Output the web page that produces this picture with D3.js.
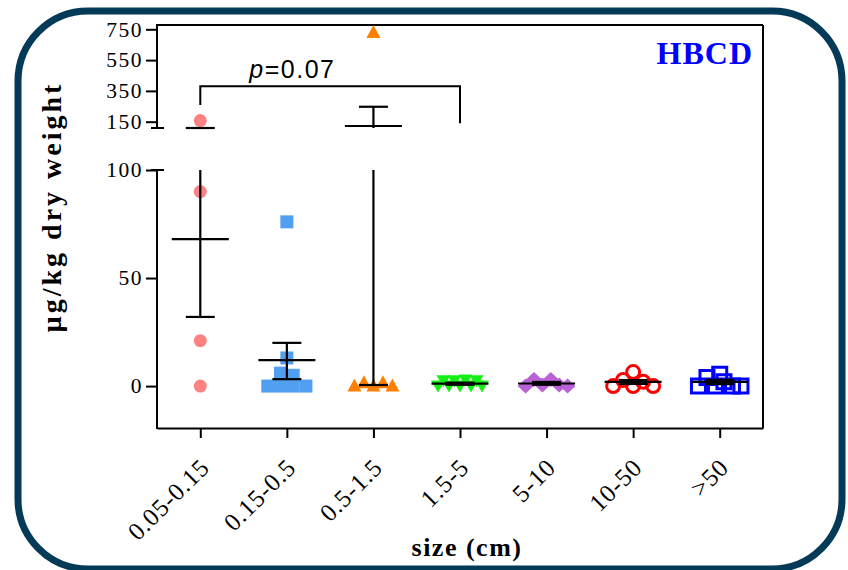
<!DOCTYPE html>
<html><head><meta charset="utf-8">
<script src="https://cdn.jsdelivr.net/npm/d3@7"></script>
<style>html,body{margin:0;padding:0;background:#fff}svg{display:block}</style>
</head><body>
<svg id="c" width="848" height="570"></svg>
<script>
// ---- data ----
const categories = ["0.05-0.15","0.15-0.5","0.5-1.5","1.5-5","5-10","10-50",">50"];
const values = [
  [157, 90, 21, 0],
  [76, 13, 6, 5, 0, 0, 0, 0],
  [730, 0, 1.5, 0, 1.5, 0],
  [0, 2.5, 0, 2.5, 0, 2.8, 0, 2.5, 0],
  [0, 3, 0.5, 3, 0.5, 0],
  [0, 2.8, 0, 2, 0, 6.5],
  [0, 4, 0, 2, 0, 0, 5.5]
];
const means   = [68, 12, 122, 1.1, 1.2, 1.9, 1.9];
const errLow  = [32, 3.2, 0.5, 0.6, 0.6, 1.0, 0.9];
const errHigh = [103, 20, 247, 1.6, 1.9, 2.8, 2.9];
const lowerTicks = [0, 50, 100];
const upperTicks = [150, 350, 550, 750];
const bracketGroups = ["0.05-0.15", "1.5-5"];
const bracketLevels = [380, 258, 140]; // top bar, left foot, right foot (upper segment units)
const pValue = "0.07";
const panelLabel = "HBCD";

// ---- styles ----
const colors  = ["#ff8282", "#519ff0", "#ff8000", "#14f014", "#b862d6", "#ff0000", "#0000ff"];
const shapes  = ["circle", "square", "triUp", "triDown", "diamond", "circleOpen", "squareOpen"];
const spacing = [12, 12.7, 9.5, 5.5, 8.4, 10, 8.5];

const svg = d3.select("#c");
const L = 157, R = 763, T = 25, B = 428;
const breakBottom = 128, breakTop = 170;

const x = d3.scalePoint().domain(categories).range([L, R]).padding(0.5);
const yLow = d3.scaleLinear().domain([-19.4, 100]).range([B, breakTop]).clamp(true);
const yUp  = d3.scaleLinear().domain([109, 778]).range([breakBottom, T]).clamp(true);
const y = v => v <= 100 ? yLow(v) : yUp(v);

// border
svg.append("rect").attr("x", 18).attr("y", 11).attr("width", 824).attr("height", 558)
  .attr("rx", 70).attr("fill", "none").attr("stroke", "#033a58").attr("stroke-width", 7);

const serif = "'Liberation Serif','Times New Roman',serif";

// frame
const frame = svg.append("g").attr("stroke", "#000").attr("stroke-width", 2).attr("fill", "none");
frame.append("line").attr("x1", L).attr("x2", R).attr("y1", T).attr("y2", T);
frame.append("line").attr("x1", R).attr("x2", R).attr("y1", T).attr("y2", B);
frame.append("line").attr("x1", L).attr("x2", L).attr("y1", T - 1).attr("y2", breakBottom);
frame.append("line").attr("x1", L).attr("x2", L).attr("y1", breakTop).attr("y2", B + 1);
frame.append("line").attr("x1", L - 6).attr("x2", L + 7).attr("y1", breakBottom).attr("y2", breakBottom);
frame.append("line").attr("x1", L - 6).attr("x2", L + 7).attr("y1", breakTop).attr("y2", breakTop);

// y axes
function styleAxis(g) {
  g.select(".domain").remove();
  g.selectAll(".tick line").attr("stroke", "#000").attr("stroke-width", 2);
  g.selectAll(".tick text").attr("font-family", serif).attr("font-size", 21.5)
    .attr("letter-spacing", 1.5).attr("fill", "#000");
}
svg.append("g").attr("transform", `translate(${L},0)`)
  .call(d3.axisLeft(yLow).tickValues(lowerTicks).tickSize(11).tickPadding(3))
  .call(styleAxis);
svg.append("g").attr("transform", `translate(${L},0)`)
  .call(d3.axisLeft(yUp).tickValues(upperTicks).tickSize(11).tickPadding(3))
  .call(styleAxis);

// x axis
const xa = svg.append("g").attr("transform", `translate(0,${B})`)
  .call(d3.axisBottom(x).tickSize(10).tickSizeOuter(0));
xa.select(".domain").attr("stroke", "#000").attr("stroke-width", 2);
xa.selectAll(".tick line").attr("stroke", "#000").attr("stroke-width", 2);
xa.selectAll(".tick text")
  .attr("font-family", serif).attr("font-size", 25).attr("letter-spacing", 0.8).attr("fill", "#000")
  .attr("text-anchor", "end").attr("dy", 0)
  .attr("transform", "translate(10,41) rotate(-45)").attr("y", 0).attr("x", 0);

// symbols
const symbolTypes = {
  circle:     { draw(c, s) { const r = 6.5; c.moveTo(r, 0); c.arc(0, 0, r, 0, 2 * Math.PI); } },
  circleOpen: { draw(c, s) { const r = 6.5; c.moveTo(r, 0); c.arc(0, 0, r, 0, 2 * Math.PI); } },
  square:     { draw(c, s) { const h = 6.5; c.rect(-h, -h, 2 * h, 2 * h); } },
  squareOpen: { draw(c, s) { const h = 7; c.rect(-h, -h, 2 * h, 2 * h); } },
  triUp:      { draw(c, s) { c.moveTo(0, -7.5); c.lineTo(7, 5.5); c.lineTo(-7, 5.5); c.closePath(); } },
  triDown:    { draw(c, s) { c.moveTo(0, 6.5); c.lineTo(7, -5.5); c.lineTo(-7, -5.5); c.closePath(); } },
  diamond:    { draw(c, s) { c.moveTo(0, -7.5); c.lineTo(8, 0); c.lineTo(0, 7.5); c.lineTo(-8, 0); c.closePath(); } }
};

// row-based swarm layout
function swarm(vals, step) {
  const pts = vals.map((v, i) => ({ v, i, py: y(v) }));
  const sorted = pts.slice().sort((a, b) => b.py - a.py || a.i - b.i);
  const rows = [];
  sorted.forEach(p => {
    const row = rows.find(r => Math.abs(r.start - p.py) <= 9);
    if (row) row.items.push(p); else rows.push({ start: p.py, items: [p] });
  });
  rows.forEach(r => {
    r.items.sort((a, b) => a.i - b.i);
    const n = r.items.length;
    r.items.forEach((p, k) => { p.dx = (k - (n - 1) / 2) * step; });
  });
  return pts;
}

const marks = svg.append("g");
categories.forEach((cat, gi) => {
  const pts = swarm(values[gi], spacing[gi]);
  const open = shapes[gi].endsWith("Open");
  marks.selectAll(null).data(pts).enter().append("path")
    .attr("d", d3.symbol().type(symbolTypes[shapes[gi]]))
    .attr("transform", d => `translate(${x(cat) + d.dx},${d.py})`)
    .attr("fill", open ? "none" : colors[gi])
    .attr("stroke", open ? colors[gi] : "none")
    .attr("stroke-width", open ? 3 : 0);
});

// mean +- SEM
const eb = svg.append("g").attr("stroke", "#000").attr("stroke-width", 2.2).attr("fill", "none");
categories.forEach((cat, gi) => {
  const cx = x(cat), lo = errLow[gi], hi = errHigh[gi], m = means[gi];
  if (lo <= 100) eb.append("line").attr("x1", cx).attr("x2", cx)
      .attr("y1", yLow(lo)).attr("y2", yLow(Math.min(hi, 100)));
  if (hi > yUp.domain()[0]) eb.append("line").attr("x1", cx).attr("x2", cx)
      .attr("y1", yUp(Math.max(lo, yUp.domain()[0]))).attr("y2", yUp(hi));
  [lo, hi].forEach(v => eb.append("line").attr("x1", cx - 14.5).attr("x2", cx + 14.5)
      .attr("y1", y(v)).attr("y2", y(v)));
  eb.append("line").attr("x1", cx - 28.5).attr("x2", cx + 28.5).attr("y1", y(m)).attr("y2", y(m));
});

// significance bracket
const bx1 = x(bracketGroups[0]), bx2 = x(bracketGroups[1]);
const br = svg.append("g").attr("stroke", "#000").attr("stroke-width", 2).attr("fill", "none");
br.append("path").attr("d",
  `M${bx1},${yUp(bracketLevels[1])}V${yUp(bracketLevels[0])}H${bx2}V${yUp(bracketLevels[2])}`);
const pt = svg.append("text").attr("x", bx1 + 49).attr("y", yUp(bracketLevels[0]) - 8)
  .attr("font-family", "'Liberation Sans',Arial,sans-serif").attr("font-size", 25)
  .attr("letter-spacing", 1.5).attr("fill", "#000");
pt.append("tspan").attr("font-style", "italic").text("p");
pt.append("tspan").text("=" + pValue);

// labels
svg.append("text").attr("x", R - 10).attr("y", 64).attr("text-anchor", "end")
  .attr("font-family", serif).attr("font-weight", "bold").attr("font-size", 32)
  .attr("letter-spacing", 1).attr("fill", "#0000ff").text(panelLabel);

svg.append("text").attr("transform", "translate(61,207) rotate(-90)").attr("text-anchor", "middle")
  .attr("font-family", serif).attr("font-weight", "bold").attr("font-size", 28)
  .attr("letter-spacing", 3).attr("fill", "#000").text("µg/kg dry weight");

svg.append("text").attr("x", (L + R) / 2 + 7).attr("y", 556).attr("text-anchor", "middle")
  .attr("font-family", serif).attr("font-weight", "bold").attr("font-size", 26)
  .attr("letter-spacing", 1.5).attr("fill", "#000").text("size (cm)");
</script>
</body></html>
